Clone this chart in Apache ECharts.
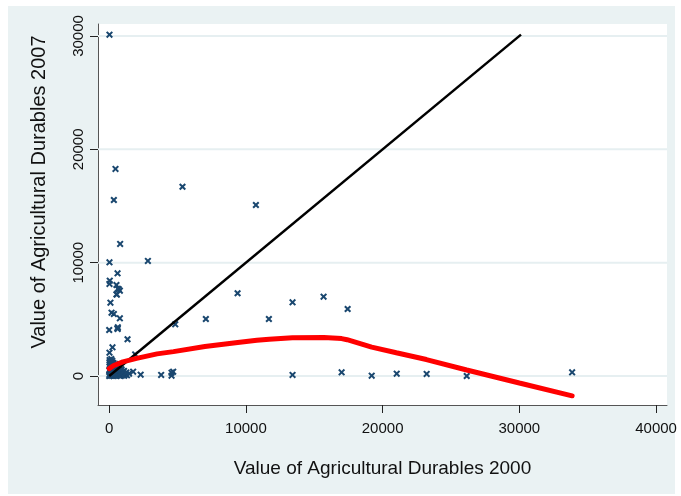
<!DOCTYPE html>
<html>
<head>
<meta charset="utf-8">
<script src="https://cdn.jsdelivr.net/npm/echarts@6/dist/echarts.min.js"></script>
<style>
  html, body { margin: 0; padding: 0; background: #fff; }
  #chart { width: 681px; height: 496px; }
</style>
</head>
<body>
<div id="chart"></div>
<script>
// value of agricultural durables, 2000 vs 2007 (one entry per household)
var durables2000 = [
  20, 460, 340, 5360, 10730, 800, 2830, 20, 610, 40, 20, 530, 700, 780, 530, 630, 560,
  9390, 7070, 11680, 13410, 15680, 17440, 4830, 90, 170, 340, 780, 0, 620, 630, 600, 1340,
  240, 20, 1900, 4680, 4560, 13410, 17000, 19200, 21030, 23220, 26150, 33860,
  1750, 2300, 3800, 4560,
  0, 30, 60, 80, 100, 120, 150, 180, 200, 230, 260, 300, 330, 360, 400, 430, 470,
  500, 540, 580, 620, 660, 700, 750, 800, 850, 900, 960, 1020, 1100, 1200, 1300, 1450,
  50, 140, 250, 380, 520, 680, 900, 1150, 20, 110, 210, 320, 450, 10, 70, 160, 280,
  40, 90, 130, 190, 270, 350, 420, 490, 560, 640, 720, 810, 880, 990, 1080, 1250,
  60, 170, 300, 440, 610, 740, 30, 220, 390, 150
];
var durables2007 = [
  30120, 18270, 15530, 16700, 15090, 11650, 10150, 10030, 9060, 8410, 8120, 8030, 7650, 7530, 7210, 7700, 7180,
  7300, 5030, 5030, 6500, 7000, 5910, 4560, 6470, 5590, 5470, 5090, 4060, 4150, 4300, 4200, 3240,
  2530, 2060, 1900, 380, 30, 90, 320, 30, 200, 180, 0, 320,
  380, 120, 90, 290,
  0, 150, 40, 300, 80, 500, 20, 250, 100, 700, 60, 350, 10, 180, 900, 50, 420,
  120, 30, 600, 200, 80, 300, 40, 150, 10, 260, 90, 380, 20, 150, 60, 200,
  1000, 600, 1150, 800, 450, 950, 550, 200, 1200, 850, 400, 650, 250, 500, 350, 750, 1050,
  550, 1100, 850, 650, 1000, 750, 300, 900, 450, 700, 500, 250, 600, 350, 450, 300,
  1300, 1250, 1150, 1050, 850, 950, 1400, 1350, 550, 1500
];

// lowess smoother of 2007 on 2000
var lowessX = [0, 300, 1000, 2000, 3500, 4700, 7000, 9400, 10800, 11700, 13400, 15700, 17000, 17400, 19200, 21000, 23200, 26150, 30000, 33860];
var lowessY = [650, 900, 1250, 1550, 1950, 2150, 2600, 2950, 3150, 3250, 3380, 3400, 3300, 3200, 2550, 2050, 1450, 530, -620, -1750];

// 45-degree reference line
var diagX = [0, 30120];
var diagY = [0, 30120];

var xTicks = [0, 10000, 20000, 30000, 40000];
var yTicks = [0, 10000, 20000, 30000];

var xMin = -820, xMax = 40800;
var yMin = -2560, yMax = 31060;

var scatterData = durables2000.map(function (v, i) { return [v, durables2007[i]]; });
var lowessData = lowessX.map(function (v, i) { return [v, lowessY[i]]; });
var diagData = diagX.map(function (v, i) { return [v, diagY[i]]; });

var crossPath = 'path://M0,2L2,0L5,3L8,0L10,2L7,5L10,8L8,10L5,7L2,10L0,8L3,5Z';
var font = 'Liberation Sans, Arial, sans-serif';
var plain = function (v) { return String(v); };

// horizontal grid lines at the y ticks
var gridSeries = yTicks.map(function (v) {
  return {
    type: 'line',
    data: [[xMin, v], [xMax, v]],
    symbol: 'none',
    silent: true,
    lineStyle: { color: '#e6eff1', width: 2 },
    z: 1
  };
});

var chart = echarts.init(document.getElementById('chart'));
chart.setOption({
  animation: false,
  backgroundColor: '#fff',
  graphic: [{
    type: 'rect',
    shape: { x: 8, y: 6, width: 667, height: 488 },
    style: { fill: '#eaf2f3' },
    z: -10
  }, {
    type: 'rect',
    shape: { x: 98, y: 24, width: 569, height: 381 },
    style: { fill: '#fff' },
    z: -9
  }, {
    // y title, placed like Stata does it (centred a bit higher than the plot)
    type: 'text',
    x: 39,
    y: 192,
    rotation: Math.PI / 2,
    style: {
      text: 'Value of Agricultural Durables 2007',
      font: '20px ' + font,
      fill: '#111',
      align: 'center',
      verticalAlign: 'middle'
    }
  }],
  grid: { left: 98, right: 14, top: 24, bottom: 91 },
  xAxis: {
    type: 'value',
    min: xMin,
    max: xMax,
    name: 'Value of Agricultural Durables 2000',
    nameLocation: 'middle',
    nameGap: 54,
    nameTextStyle: { fontFamily: font, fontSize: 19, color: '#111' },
    axisLine: { show: true, onZero: false, lineStyle: { color: '#555', width: 1 } },
    axisTick: { show: true, customValues: xTicks, length: 8, lineStyle: { color: '#222' } },
    axisLabel: { customValues: xTicks, formatter: plain, margin: 16, fontFamily: font, fontSize: 15, color: '#111' },
    splitLine: { show: false }
  },
  yAxis: {
    type: 'value',
    min: yMin,
    max: yMax,
    axisLine: { show: true, onZero: false, lineStyle: { color: '#555', width: 1 } },
    axisTick: { show: true, customValues: yTicks, length: 8, lineStyle: { color: '#222' } },
    axisLabel: { customValues: yTicks, formatter: plain, rotate: 90, margin: 12, fontFamily: font, fontSize: 15, color: '#111' },
    splitLine: { show: false }
  },
  series: gridSeries.concat([{
    type: 'scatter',
    data: scatterData,
    symbol: crossPath,
    symbolSize: 7,
    itemStyle: { color: '#1a476f', opacity: 1 },
    z: 3
  }, {
    type: 'line',
    data: diagData,
    symbol: 'none',
    lineStyle: { color: '#000', width: 2.5 },
    z: 4
  }, {
    type: 'line',
    data: lowessData,
    symbol: 'none',
    smooth: false,
    lineStyle: { color: '#ff0000', width: 5, cap: 'round' },
    z: 5
  }])
});
</script>
</body>
</html>
